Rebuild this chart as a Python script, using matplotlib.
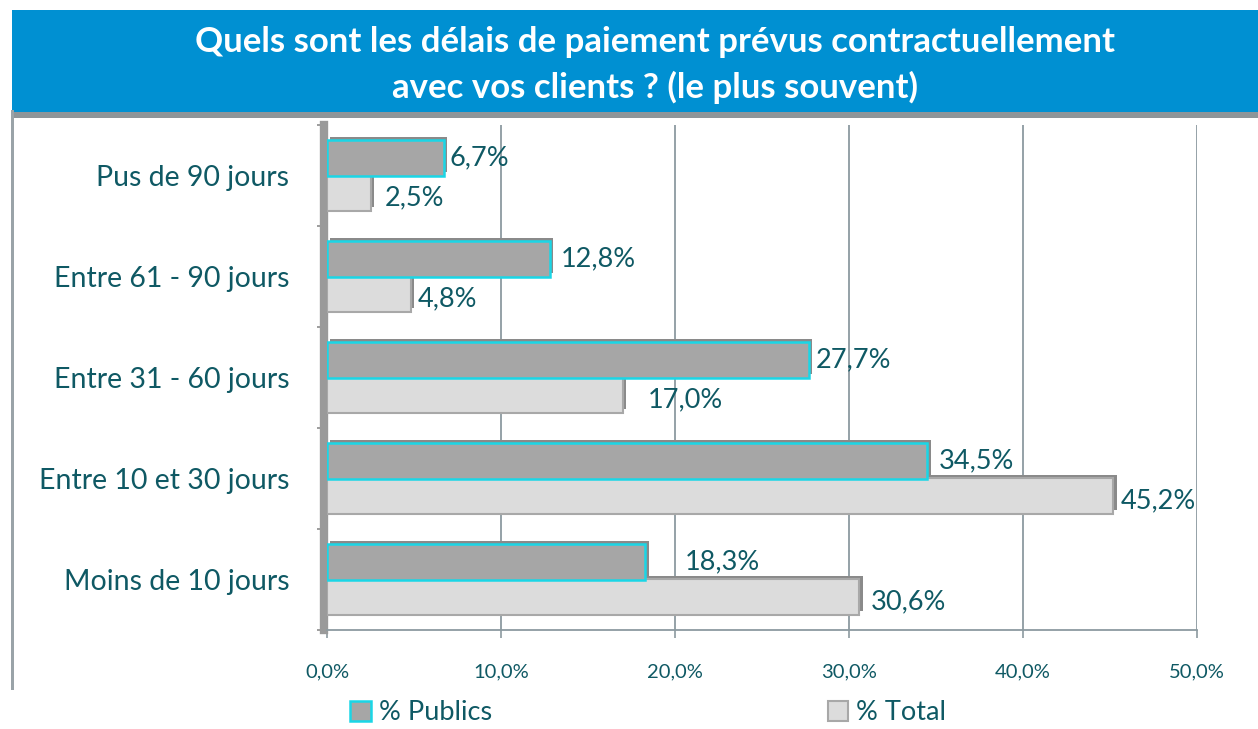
import matplotlib
matplotlib.use("Agg")
import matplotlib.pyplot as plt
import matplotlib.patheffects as pe
from matplotlib.patches import Rectangle, Patch
import numpy as np

plt.rcParams['font.family'] = ['Lato', 'DejaVu Sans']

categories = ["Moins de 10 jours", "Entre 10 et 30 jours", "Entre 31 - 60 jours",
              "Entre 61 - 90 jours", "Pus de 90 jours"]
publics = [18.3, 34.5, 27.7, 12.8, 6.7]
total = [30.6, 45.2, 17.0, 4.8, 2.5]
series_names = ["% Publics", "% Total"]
xticks = [0, 10, 20, 30, 40, 50]
title = "Quels sont les délais de paiement prévus contractuellement\navec vos clients ? (le plus souvent)"

TEAL = "#0F5964"
BLUE = "#0090D2"
GRID = "#8C9AA0"

W, H = 1258, 729
fig = plt.figure(figsize=(W / 100, H / 100), dpi=100)
fig.patch.set_facecolor("white")

# banner
fig.add_artist(Rectangle((12 / W, 1 - 118 / H), 1 - 12 / W, 6 / H, transform=fig.transFigure,
                         facecolor="#8E9599", edgecolor="none"))
fig.add_artist(Rectangle((12 / W, 1 - 112 / H), 1 - 12 / W, 102 / H, transform=fig.transFigure,
                         facecolor=BLUE, edgecolor="none"))
fig.add_artist(Rectangle((11 / W, 1 - 690 / H), 3 / W, 580 / H, transform=fig.transFigure,
                         facecolor="#9AA3A8", edgecolor="none"))
fig.text(655 / W, 1 - 65 / H, title, ha="center", va="center", color="white",
         fontsize=25, fontweight="bold", linespacing=1.5)

ax = fig.add_axes([327 / W, 1 - 630 / H, (1197 - 327) / W, (630 - 125) / H])
y = np.arange(len(categories))
h = 0.35
shadow = [pe.SimplePatchShadow(offset=(2.5, 2.5), shadow_rgbFace="#8A8A8A", alpha=1.0), pe.Normal()]
bt = ax.barh(y - 0.175, total, height=h, color="#DCDCDC", edgecolor="#A8A8A8", linewidth=1.5,
             label=series_names[1], zorder=3)
bp = ax.barh(y + 0.175, publics, height=h, color="#A6A6A6", edgecolor="#1AD6E6", linewidth=1.8,
             label=series_names[0], zorder=4)
for b in list(bt) + list(bp):
    b.set_path_effects(shadow)

# data labels
pub_dx = [28, 8, 5, 8, 4]
tot_dx = [8, 5, 18, 5, 10]
for i in range(len(categories)):
    ax.annotate(f"{publics[i]:.1f}%".replace(".", ","), (publics[i], y[i] + 0.175),
                xytext=(pub_dx[i], 0), textcoords="offset points", va="center", ha="left",
                color=TEAL, fontsize=19.5, zorder=6)
    ax.annotate(f"{total[i]:.1f}%".replace(".", ","), (total[i], y[i] - 0.175),
                xytext=(tot_dx[i], -3), textcoords="offset points", va="center", ha="left",
                color=TEAL, fontsize=19.5, zorder=6)

ax.set_xlim(0, 50)
ax.set_ylim(-0.5, len(categories) - 0.5)
ax.set_xticks(xticks)
ax.set_xticklabels([f"{v:.1f}%".replace(".", ",") for v in xticks])
ax.set_yticks(y)
ax.set_yticklabels(categories)
ax.set_yticks(np.arange(-0.5, len(categories), 1.0), minor=True)
ax.tick_params(axis="y", which="major", length=0, pad=25, labelsize=20.5, labelcolor=TEAL)
ax.tick_params(axis="y", which="minor", length=5, color="#8C8C8C", width=1.2)
ax.tick_params(axis="x", length=6, color=GRID, width=1.2, pad=18, labelsize=14.5, labelcolor=TEAL)
ax.grid(axis="x", color=GRID, linewidth=1.3, zorder=0)
ax.set_axisbelow(True)
for s in ["top", "right"]:
    ax.spines[s].set_visible(False)
ax.spines["bottom"].set_color(GRID)
ax.spines["bottom"].set_linewidth(1.3)
ax.spines["left"].set_color("#9A9A9A")
ax.spines["left"].set_linewidth(6)
ax.spines["left"].set_position(("outward", 2))

handles = [Patch(facecolor="#A6A6A6", edgecolor="#1AD6E6", linewidth=1.8, label=series_names[0]),
           Patch(facecolor="#DCDCDC", edgecolor="#A8A8A8", linewidth=1.5, label=series_names[1])]
leg = fig.legend(handles=handles, loc="center left", bbox_to_anchor=(326 / W, 1 - 713 / H), ncol=2,
                 frameon=False, fontsize=19.5, handlelength=0.75, handleheight=0.75,
                 handletextpad=0.3, columnspacing=12.4)
for t in leg.get_texts():
    t.set_color(TEAL)

fig.savefig("out.png", dpi=100)
